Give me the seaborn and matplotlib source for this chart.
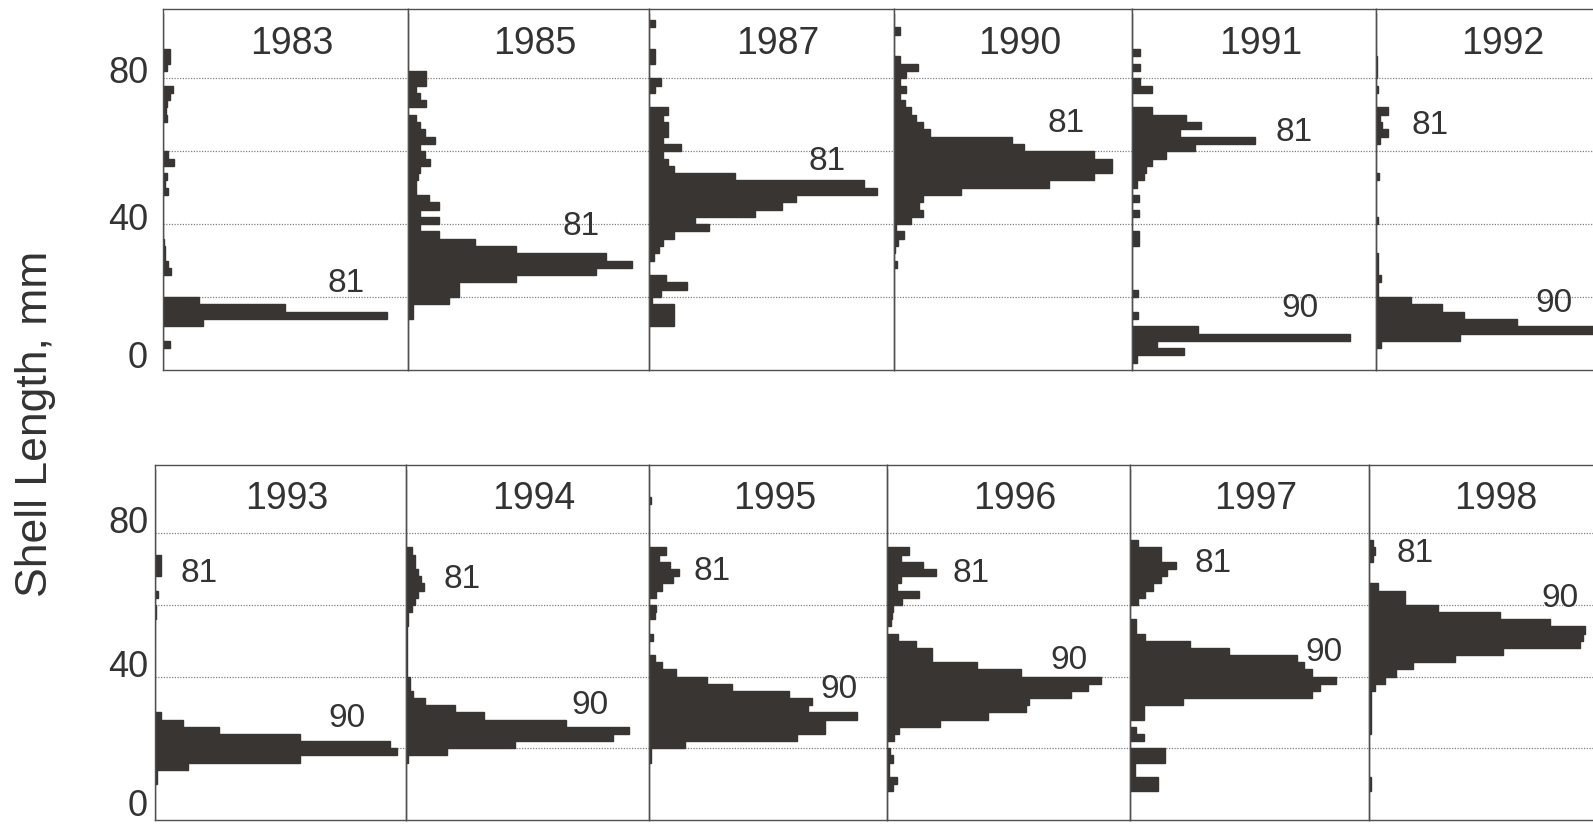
import numpy as np
import matplotlib
matplotlib.use("Agg")
import matplotlib.pyplot as plt
import seaborn as sns

# 2-mm shell length classes, 0-98 mm
bin_edges_mm = np.arange(0, 100, 2)
bin_mid_mm = bin_edges_mm[:-1] + 1

years_top = ["1983", "1985", "1987", "1990", "1991", "1992"]
years_bottom = ["1993", "1994", "1995", "1996", "1997", "1998"]

# Frequency (%) per 2-mm class, listed from 0-2 mm upward (rows: 0-18, 20-38, 40-58, 60-78, 80-96)
pct_1983 = [0, 0, 0, 0.8, 0, 0, 4.9, 27.4, 14.9, 4.4,
            0, 0, 0, 1.0, 0.6, 0.2, 0.2, 0.1, 0, 0,
            0, 0, 0, 0, 0.6, 0.3, 0.5, 0, 1.3, 0.6,
            0, 0, 0, 0, 0.5, 0.4, 0.5, 0.8, 1.2, 0,
            0, 0.5, 0.8, 0.8, 0, 0, 0, 0, 0]
pct_1985 = [0, 0, 0, 0, 0, 0, 0, 0.6, 0.6, 5.1,
            6.3, 6.3, 13.5, 23.4, 27.9, 24.7, 13.5, 8.3, 3.9, 1.5,
            3.9, 1.5, 3.9, 2.6, 1.0, 1.0, 1.2, 1.5, 2.7, 2.1,
            1.5, 3.3, 2.1, 1.5, 1.0, 0, 2.2, 1.5, 1.0, 2.2,
            2.2, 0, 0, 0, 0, 0, 0, 0, 0]
pct_1987 = [0, 0, 0, 0, 0, 0, 3.0, 3.0, 3.0, 0.4,
            1.5, 4.6, 2.1, 0, 0, 0.6, 1.2, 1.7, 3.0, 7.3,
            5.6, 13.0, 16.3, 18.0, 27.9, 26.3, 10.5, 3.1, 2.3, 1.7,
            3.9, 1.7, 2.3, 2.3, 1.7, 2.3, 0, 0, 0.7, 1.5,
            0, 0, 0.7, 0.7, 0, 0, 0, 0.7, 0]
pct_1990 = [0, 0, 0, 0, 0, 0, 0, 0, 0, 0,
            0, 0, 0, 0, 0.4, 0, 0.1, 0.5, 1.2, 0.3,
            2.2, 3.7, 3.2, 3.7, 8.4, 19.6, 25.2, 27.5, 27.5, 25.2,
            16.4, 14.9, 4.5, 3.6, 2.8, 2.2, 1.4, 0.8, 1.5, 0.8,
            1.5, 3.0, 0.75, 0, 0, 0, 0.75, 0, 0]
pct_1991 = [0, 0.6, 6.4, 3.1, 26.8, 8.1, 0, 0.7, 0, 0,
            0.7, 0, 0, 0, 0, 0, 0, 0.8, 0.8, 0,
            0, 0.8, 0, 0.8, 0, 0.6, 1.5, 1.7, 2.5, 4.2,
            7.7, 15.1, 5.9, 8.5, 6.6, 2.5, 0, 0, 2.5, 1.0,
            0, 1.0, 0, 1.0, 0, 0, 0, 0, 0]
pct_1992 = [0, 0, 0, 0.6, 10.5, 28.5, 17.5, 10.9, 8.2, 4.4,
            0.3, 0.3, 0.6, 0.3, 0.2, 0.2, 0, 0, 0, 0,
            0.2, 0, 0, 0, 0, 0, 0.4, 0, 0, 0,
            0, 0.5, 1.5, 0.7, 0.5, 1.5, 0, 0, 0.2, 0,
            0.15, 0.15, 0.15, 0, 0, 0, 0, 0, 0]
pct_1993 = [0, 0, 0, 0, 0, 0.2, 0.2, 4.0, 17.3, 28.9,
            28.1, 17.3, 7.6, 3.3, 0.7, 0, 0, 0, 0, 0,
            0, 0, 0, 0, 0, 0, 0, 0, 0.15, 0.15,
            0, 0.3, 0, 0, 0.7, 0.7, 0.7, 0, 0, 0,
            0, 0, 0, 0, 0, 0, 0, 0, 0]
pct_1994 = [0, 0, 0, 0, 0, 0, 0, 0, 0.3, 5.0,
            13.4, 25.6, 27.5, 19.8, 9.6, 6.0, 2.4, 0.9, 0.5, 0.5,
            0.1, 0.1, 0.1, 0.1, 0.1, 0.1, 0.1, 0.3, 0.3, 0.7,
            1.1, 1.5, 2.2, 1.8, 1.5, 1.1, 1.1, 0.7, 0, 0,
            0, 0, 0, 0, 0, 0, 0, 0, 0]
pct_1995 = [0, 0, 0, 0, 0, 0, 0, 0, 0.3, 0.3,
            4.6, 18.7, 22.2, 22.2, 26.2, 20.0, 20.6, 17.7, 10.5, 7.3,
            3.4, 1.7, 0.7, 0, 0, 0.5, 0, 0, 0.7, 0.9,
            0, 0.9, 1.7, 3.0, 3.8, 2.6, 1.3, 2.2, 0, 0,
            0, 0, 0, 0, 0.3, 0, 0, 0, 0]
pct_1996 = [0, 0, 0, 0, 0.8, 1.2, 0.2, 0.2, 0.8, 0.4,
            0, 0.9, 1.5, 6.5, 12.5, 17.2, 17.5, 22.7, 24.8, 26.4,
            16.5, 11.1, 5.5, 5.5, 3.6, 1.3, 0, 0.5, 0.6, 0.7,
            1.9, 3.9, 1.2, 1.7, 6.1, 4.4, 1.7, 2.7, 0, 0,
            0, 0, 0, 0, 0, 0, 0, 0, 0]
pct_1997 = [0, 0, 0, 0, 3.5, 3.5, 0.6, 0.6, 4.4, 4.4,
            0, 1.7, 0.8, 0, 1.7, 1.7, 6.6, 22.8, 23.9, 25.9,
            22.8, 21.8, 21.0, 12.4, 7.5, 1.9, 0.8, 0.8, 0, 0,
            1.0, 1.9, 2.9, 3.9, 4.7, 5.8, 3.9, 3.9, 1.0, 0,
            0, 0, 0, 0, 0, 0, 0, 0, 0]
pct_1998 = [0, 0, 0, 0, 0.3, 0.3, 0, 0, 0, 0,
            0, 0, 0.2, 0.2, 0.2, 0.2, 0.2, 0.2, 0.7, 2.0,
            3.4, 5.5, 10.7, 16.7, 26.3, 26.7, 26.9, 22.5, 16.3, 8.6,
            4.5, 4.5, 1.1, 0, 0, 0, 0.5, 0.8, 0.5, 0,
            0, 0, 0, 0, 0, 0, 0, 0, 0]

# Cohort tags (year class 1981 and 1990): position in (frequency, mm) of each panel
cohort81_freq = [22.4, 21.6, 21.8, 21.7, 19.9, 6.7, 5.3, 6.9, 8.0, 10.4, 10.4, 5.7]
cohort81_mm = [23.8, 39.3, 57.3, 67.5, 65.0, 67.0, 68.8, 67.1, 69.3, 68.8, 71.5, 74.3]
cohort90_freq = [None, None, None, None, 20.7, 22.1, 22.9, 22.7, 23.9, 22.4, 24.3, 23.8]
cohort90_mm = [None, None, None, None, 16.8, 18.3, 28.3, 31.9, 36.4, 44.5, 46.8, 61.7]

tick_mm = [0, 40, 80]
tick_labels = ["0", "40", "80"]
grid_mm = [20, 40, 60, 80]

INK = "#383533"
TEXT = "#333333"
GRID = "#808080"
FRAME = "#505050"

sns.set_theme(style="white")
plt.rcParams["font.family"] = ["Liberation Sans", "DejaVu Sans"]

W, H = 1593, 824
fig = plt.figure(figsize=(W / 100, H / 100), dpi=100)
fig.patch.set_facecolor("white")

rows = [
    dict(years=years_top,
         pct=[pct_1983, pct_1985, pct_1987, pct_1990, pct_1991, pct_1992],
         lefts=[163, 408, 649, 894, 1132, 1376],
         y_bottom=370, y_top=9, pad=10.8, tick_dy=[8.6, 2.9, 3.6]),
    dict(years=years_bottom,
         pct=[pct_1993, pct_1994, pct_1995, pct_1996, pct_1997, pct_1998],
         lefts=[155, 406, 649, 887, 1130, 1369],
         y_bottom=820, y_top=465, pad=5.0, tick_dy=[9.4, 6.2, 7.2]),
]

panel = 0
for row in rows:
    lefts = row["lefts"]
    for i, (year, pct) in enumerate(zip(row["years"], row["pct"])):
        left = lefts[i]
        width = (lefts[i + 1] - left) if i + 1 < len(lefts) else 241
        ax = fig.add_axes([left / W, 1 - row["y_bottom"] / H, width / W,
                           (row["y_bottom"] - row["y_top"]) / H])
        ax.set_facecolor("white")
        sns.histplot(y=bin_mid_mm, weights=np.asarray(pct, dtype=float),
                     binwidth=2, binrange=(0, 98), stat="count",
                     color=INK, alpha=1, edgecolor=INK, linewidth=1.0, ax=ax, zorder=2)
        for g in grid_mm:
            ax.axhline(g, color=GRID, lw=0.9, ls=(0, (1, 1.2)), zorder=1)
        ax.set_xlim(0, 30)
        ax.set_ylim(0, 99)
        ax.set_xticks([])
        ax.set_yticks([])
        ax.set_xlabel("")
        ax.set_ylabel("")
        for s in ax.spines.values():
            s.set_color(FRAME)
            s.set_linewidth(1.0)
            s.set_zorder(3)

        if i == 0:
            for v, lab, dy in zip(tick_mm, tick_labels, row["tick_dy"]):
                ax.annotate(lab, xy=(0, v), xycoords=("axes fraction", "data"),
                            xytext=(-row["pad"], dy), textcoords="offset points",
                            ha="right", va="center", fontsize=26, color=TEXT,
                            annotation_clip=False)

        ax.text(15.8, 89.5, year, ha="center", va="center", fontsize=27, color=TEXT)
        ax.text(cohort81_freq[panel], cohort81_mm[panel], "81",
                ha="center", va="center", fontsize=24, color=TEXT)
        if cohort90_freq[panel] is not None:
            ax.text(cohort90_freq[panel], cohort90_mm[panel], "90",
                    ha="center", va="center", fontsize=24, color=TEXT)
        panel += 1

fig.text(36 / W, 1 - 424 / H, "Shell Length, mm", rotation=90,
         ha="center", va="center", fontsize=32, color=TEXT)

fig.savefig("out.png", dpi=100, facecolor="white")
